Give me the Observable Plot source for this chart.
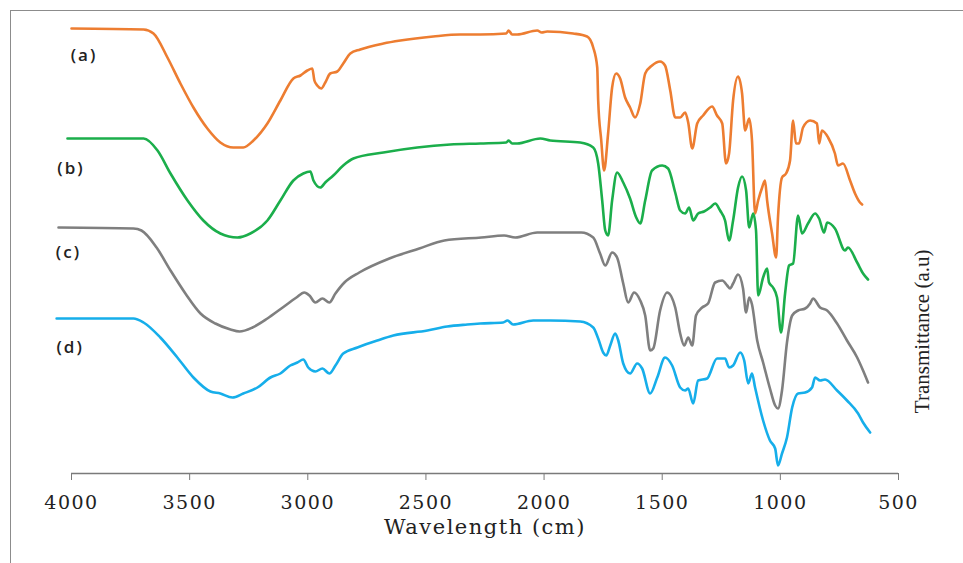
<!DOCTYPE html>
<html><head><meta charset="utf-8">
<script src="https://cdn.jsdelivr.net/npm/d3@7"></script>
<script src="https://cdn.jsdelivr.net/npm/@observablehq/plot@0.6"></script>
<style>
html,body{margin:0;padding:0;background:#fff;}
#wrap{position:relative;width:963px;height:563px;overflow:hidden;}
#frame{position:absolute;left:10px;top:10px;width:970px;height:570px;border-left:1.5px solid #8c8c8c;border-top:1.5px solid #8c8c8c;pointer-events:none;}
#chart{position:absolute;left:0;top:0;}
</style></head><body>
<div id="wrap"><div id="chart"></div><div id="frame"></div></div>
<script>
// Wavenumber (cm-1) , transmittance (a.u.) pairs
const specA = [[4000,445],[3695,444],[3653,440],[3594,416],[3539,390],[3484,366],[3425,345],[3370,331],[3315,326],[3273,326],[3230,333],[3171,350],[3116,373],[3061,395],[3031,398],[3002,403],[2981,405],[2972,393],[2960,388],[2943,385],[2926,391],[2905,400],[2875,402],[2850,410],[2820,420],[2778,424],[2680,430],[2608,433],[2469,437],[2355,439],[2270,439],[2160,440],[2150,443],[2135,439],[2114,439],[2029,443],[2010,441],[1987,442],[1877,440],[1818,437],[1792,426],[1775,406],[1771,373],[1758,333],[1746,303],[1729,340],[1712,386],[1695,400],[1678,395],[1657,376],[1636,366],[1615,356],[1593,370],[1572,400],[1543,408],[1509,412],[1488,408],[1466,383],[1445,356],[1424,356],[1403,361],[1390,351],[1373,325],[1352,350],[1327,358],[1289,367],[1268,358],[1246,350],[1230,310],[1217,320],[1200,373],[1179,397],[1162,380],[1149,343],[1132,355],[1120,333],[1107,260],[1094,273],[1077,286],[1065,293],[1056,273],[1035,240],[1018,216],[1010,256],[993,296],[976,300],[959,313],[946,353],[934,330],[921,330],[904,346],[874,353],[845,350],[836,330],[824,343],[798,336],[769,320],[756,308],[735,310],[705,293],[684,280],[663,271],[654,269]];
const specB = [[4017,335],[3695,335],[3636,323],[3581,300],[3509,273],[3442,253],[3370,240],[3298,236],[3243,240],[3171,253],[3116,273],[3061,293],[3019,300],[2989,302],[2976,293],[2947,286],[2926,291],[2892,298],[2850,308],[2807,315],[2680,321],[2537,326],[2397,329],[2270,330],[2160,331],[2150,333],[2135,330],[2114,330],[2016,335],[1974,333],[1847,331],[1792,326],[1771,310],[1754,273],[1741,243],[1729,238],[1712,273],[1691,301],[1665,291],[1636,275],[1610,256],[1593,250],[1572,273],[1543,303],[1500,308],[1475,305],[1445,281],[1424,263],[1403,260],[1386,266],[1369,253],[1348,260],[1323,262],[1297,266],[1276,270],[1255,263],[1234,253],[1217,233],[1200,253],[1179,286],[1162,297],[1145,283],[1132,246],[1115,260],[1103,243],[1094,178],[1073,196],[1056,205],[1048,191],[1031,186],[1014,176],[997,141],[980,180],[963,208],[946,210],[925,258],[908,240],[883,250],[853,260],[836,255],[815,241],[802,251],[769,245],[726,223],[714,226],[675,211],[650,200],[629,194]];
const specC = [[4055,246],[3738,245],[3704,243],[3640,226],[3581,203],[3518,180],[3454,160],[3391,150],[3327,144],[3289,142],[3234,146],[3171,155],[3112,165],[3048,176],[3015,181],[2993,178],[2968,171],[2938,175],[2909,171],[2883,180],[2845,191],[2782,201],[2655,215],[2528,225],[2422,233],[2266,236],[2169,238],[2122,236],[2029,241],[1949,241],[1843,241],[1792,236],[1763,220],[1741,208],[1712,221],[1691,216],[1665,190],[1644,171],[1619,181],[1593,173],[1572,158],[1551,123],[1538,125],[1509,163],[1479,181],[1445,166],[1424,140],[1407,128],[1390,136],[1373,128],[1357,158],[1331,166],[1306,170],[1276,191],[1246,193],[1225,188],[1213,185],[1200,190],[1179,199],[1158,185],[1145,161],[1132,176],[1120,169],[1098,133],[1073,111],[1044,85],[1022,68],[1010,65],[993,83],[972,131],[950,158],[925,163],[895,165],[874,170],[862,175],[832,166],[802,163],[760,150],[718,133],[675,116],[650,103],[629,91]];
const specD = [[4063,155],[3738,155],[3695,151],[3624,136],[3552,116],[3484,96],[3412,82],[3370,80],[3319,76],[3273,80],[3213,86],[3158,96],[3116,100],[3074,108],[3044,111],[3019,114],[2998,106],[2968,102],[2938,105],[2909,100],[2883,108],[2850,120],[2790,126],[2706,133],[2638,138],[2494,143],[2410,147],[2325,149],[2270,150],[2173,151],[2155,153],[2131,149],[2046,153],[1974,153],[1847,152],[1792,146],[1771,135],[1750,121],[1737,118],[1720,128],[1699,140],[1686,133],[1665,110],[1636,100],[1606,110],[1585,105],[1551,80],[1521,96],[1488,116],[1458,108],[1424,86],[1403,83],[1390,85],[1369,70],[1348,93],[1310,95],[1268,115],[1234,115],[1217,106],[1200,108],[1170,121],[1153,113],[1136,90],[1120,100],[1107,86],[1073,53],[1044,33],[1022,25],[1010,8],[993,20],[972,36],[950,66],[925,80],[895,81],[866,86],[853,96],[832,93],[811,94],[760,83],[718,73],[671,60],[650,51],[620,41]];

const seriesNames = ["(a)", "(b)", "(c)", "(d)"];
const seriesColors = ["#ED7D31", "#1BAE4B", "#7F7F7F", "#16AEEA"];
// label anchor positions (wavenumber, a.u.)
const labelWn = [3947, 4002, 4013, 4006];
const labelT = [418, 305, 221, 126];
const xTicks = [4000, 3500, 3000, 2500, 2000, 1500, 1000, 500];
const xTitle = "Wavelength (cm)";
const yTitle = "Transmittance (a.u)";

const specs = [specA, specB, specC, specD];
const rows = specs.flatMap((s, i) => s.map(([wn, t]) => ({name: seriesNames[i], wn, t})));
const labelRows = seriesNames.map((n, i) => ({label: n, wn: labelWn[i], t: labelT[i]}));

const chart = Plot.plot({
  width: 963, height: 563,
  marginLeft: 71, marginRight: 65, marginTop: 11, marginBottom: 90,
  style: {background: "transparent", overflow: "visible"},
  x: {domain: [4000, 500]},
  y: {domain: [0, 462], axis: null},
  color: {domain: seriesNames, range: seriesColors},
  marks: [
    Plot.ruleY([0], {stroke: "#7a7a7a", strokeWidth: 1.4}),
    Plot.axisX(xTicks, {tickSize: 7, tickPadding: 15, stroke: "#7a7a7a", fill: "#222", label: null, tickFormat: d => String(d)}),
    Plot.line(rows, {x: "wn", y: "t", z: "name", stroke: "name", strokeWidth: 2.6, curve: "monotone-x", strokeLinejoin: "round"}),
    Plot.text(labelRows, {x: "wn", y: "t", text: "label", fontFamily: "Open Sans", fontWeight: 600, fontSize: 17, fill: "#222"}),
    Plot.text([xTitle], {frameAnchor: "bottom", dy: 60, fill: "#222"}),
    Plot.text([yTitle], {frameAnchor: "right", dx: 24, dy: 7, rotate: -90, fill: "#222"})
  ]
});
document.getElementById("chart").appendChild(chart);

// serif fonts, spaced out to match the wide look of the reference
chart.querySelectorAll("text").forEach(t => {
  const s = t.textContent;
  if (/^\d+$/.test(s)) {
    t.setAttribute("font-family", "DejaVu Serif");
    t.setAttribute("font-size", "19");
    t.setAttribute("letter-spacing", "1.5");
    t.setAttribute("font-weight", "normal");
  } else if (s === xTitle) {
    t.setAttribute("font-family", "DejaVu Serif");
    t.setAttribute("font-size", "21");
    t.setAttribute("letter-spacing", "1.5");
    t.setAttribute("font-weight", "normal");
  } else if (s === yTitle) {
    t.setAttribute("font-family", "Liberation Serif");
    t.setAttribute("font-size", "21");
  } else if (seriesNames.includes(s)) {
    t.setAttribute("letter-spacing", "2");
  }
});
</script>
</body></html>
